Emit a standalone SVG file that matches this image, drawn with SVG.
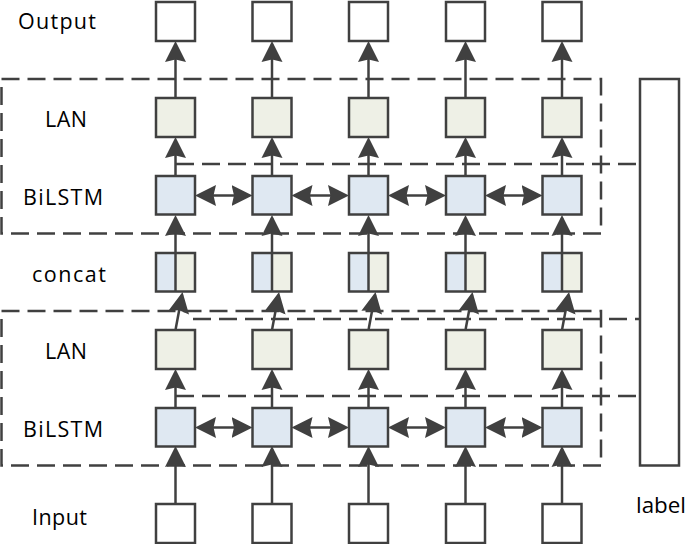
<svg xmlns="http://www.w3.org/2000/svg" width="685" height="544" viewBox="0 0 685 544">
<style>
.bx{stroke:#404040;stroke-width:2.5;}
.w{fill:#ffffff;}
.b{fill:#dfe8f2;}
.g{fill:#eef0e6;}
.ln{stroke:#404040;stroke-width:2.5;fill:none;}
.ar{marker-end:url(#ah);}
.dar{marker-end:url(#ah);marker-start:url(#ahs);}
.ds{stroke:#404040;stroke-width:2.5;fill:none;stroke-dasharray:18 8;}
.t{font-family:"Open Sans","Liberation Sans",Arial,sans-serif;font-size:21.5px;fill:#000;}
</style>
<defs>
<marker id="ah" markerUnits="userSpaceOnUse" viewBox="0 -12 24 24" markerWidth="24" markerHeight="24" refX="18" refY="0" orient="auto">
<path d="M0,-10.5 L21,0 L0,10.5 L2.5,0 z" fill="#404040"/>
</marker>
<marker id="ahs" markerUnits="userSpaceOnUse" viewBox="0 -12 24 24" markerWidth="24" markerHeight="24" refX="18" refY="0" orient="auto-start-reverse">
<path d="M0,-10.5 L21,0 L0,10.5 L2.5,0 z" fill="#404040"/>
</marker>
</defs>

<g id="dashed-regions">
<rect class="ds" x="1.5" y="79" width="599.5" height="154.5"/>
<rect class="ds" x="1.5" y="311" width="599.5" height="154.5"/>
<line class="ds" x1="176" y1="164" x2="640" y2="164"/>
<line class="ds" x1="193" y1="319" x2="640" y2="319"/>
<line class="ds" x1="176" y1="396" x2="640" y2="396"/>
</g>

<g id="label-bar">
<rect class="bx w" x="640" y="79" width="39" height="386.5"/>
<text class="t" x="636" y="513" textLength="50" lengthAdjust="spacingAndGlyphs">label</text>
</g>

<g id="row-labels">
<text class="t" x="18" y="29" textLength="78" lengthAdjust="spacing">Output</text>
<text class="t" x="45" y="127" textLength="42" lengthAdjust="spacing">LAN</text>
<text class="t" x="23" y="204.5" textLength="80" lengthAdjust="spacing">BiLSTM</text>
<text class="t" x="32" y="281.5" textLength="74" lengthAdjust="spacing">concat</text>
<text class="t" x="45" y="359" textLength="42" lengthAdjust="spacing">LAN</text>
<text class="t" x="23" y="436.5" textLength="80" lengthAdjust="spacing">BiLSTM</text>
<text class="t" x="32" y="525" textLength="55" lengthAdjust="spacing">Input</text>
</g>

<g id="connectors">
<!-- column 1 cx=175.5 -->
<line class="ln ar" x1="175.5" y1="504" x2="175.5" y2="449"/>
<line class="ln ar" x1="175.5" y1="408" x2="175.5" y2="372"/>
<line class="ln ar" x1="175.5" y1="330" x2="182" y2="295"/>
<line class="ln ar" x1="175.5" y1="253" x2="175.5" y2="218"/>
<line class="ln ar" x1="175.5" y1="176" x2="175.5" y2="140"/>
<line class="ln ar" x1="175.5" y1="98" x2="175.5" y2="44"/>
<!-- column 2 cx=272 -->
<line class="ln ar" x1="272" y1="504" x2="272" y2="449"/>
<line class="ln ar" x1="272" y1="408" x2="272" y2="372"/>
<line class="ln ar" x1="272" y1="330" x2="278.5" y2="295"/>
<line class="ln ar" x1="272" y1="253" x2="272" y2="218"/>
<line class="ln ar" x1="272" y1="176" x2="272" y2="140"/>
<line class="ln ar" x1="272" y1="98" x2="272" y2="44"/>
<!-- column 3 cx=368.5 -->
<line class="ln ar" x1="368.5" y1="504" x2="368.5" y2="449"/>
<line class="ln ar" x1="368.5" y1="408" x2="368.5" y2="372"/>
<line class="ln ar" x1="368.5" y1="330" x2="375" y2="295"/>
<line class="ln ar" x1="368.5" y1="253" x2="368.5" y2="218"/>
<line class="ln ar" x1="368.5" y1="176" x2="368.5" y2="140"/>
<line class="ln ar" x1="368.5" y1="98" x2="368.5" y2="44"/>
<!-- column 4 cx=465.5 -->
<line class="ln ar" x1="465.5" y1="504" x2="465.5" y2="449"/>
<line class="ln ar" x1="465.5" y1="408" x2="465.5" y2="372"/>
<line class="ln ar" x1="465.5" y1="330" x2="472" y2="295"/>
<line class="ln ar" x1="465.5" y1="253" x2="465.5" y2="218"/>
<line class="ln ar" x1="465.5" y1="176" x2="465.5" y2="140"/>
<line class="ln ar" x1="465.5" y1="98" x2="465.5" y2="44"/>
<!-- column 5 cx=562 -->
<line class="ln ar" x1="562" y1="504" x2="562" y2="449"/>
<line class="ln ar" x1="562" y1="408" x2="562" y2="372"/>
<line class="ln ar" x1="562" y1="330" x2="568.5" y2="295"/>
<line class="ln ar" x1="562" y1="253" x2="562" y2="218"/>
<line class="ln ar" x1="562" y1="176" x2="562" y2="140"/>
<line class="ln ar" x1="562" y1="98" x2="562" y2="44"/>
<!-- bidirectional, upper BiLSTM -->
<line class="ln dar" x1="198" y1="195.5" x2="249.5" y2="195.5"/>
<line class="ln dar" x1="294.5" y1="195.5" x2="346" y2="195.5"/>
<line class="ln dar" x1="391" y1="195.5" x2="443" y2="195.5"/>
<line class="ln dar" x1="488" y1="195.5" x2="539.5" y2="195.5"/>
<!-- bidirectional, lower BiLSTM -->
<line class="ln dar" x1="198" y1="427.5" x2="249.5" y2="427.5"/>
<line class="ln dar" x1="294.5" y1="427.5" x2="346" y2="427.5"/>
<line class="ln dar" x1="391" y1="427.5" x2="443" y2="427.5"/>
<line class="ln dar" x1="488" y1="427.5" x2="539.5" y2="427.5"/>
</g>

<g id="col1">
<rect id="out1" class="bx w" x="156" y="2" width="39" height="39"/>
<rect id="lan2-1" class="bx g" x="156" y="98" width="39" height="39"/>
<rect id="bil2-1" class="bx b" x="156" y="176" width="39" height="38.5"/>
<g id="cat1"><rect class="b" x="156" y="253" width="19.5" height="38.5"/><rect class="g" x="175.5" y="253" width="19.5" height="38.5"/><rect class="bx" fill="none" x="156" y="253" width="39" height="38.5"/><line class="ln" x1="175.5" y1="253" x2="175.5" y2="291.5"/></g>
<rect id="lan1-1" class="bx g" x="156" y="330" width="39" height="39"/>
<rect id="bil1-1" class="bx b" x="156" y="408" width="39" height="38.5"/>
<rect id="in1" class="bx w" x="156" y="504" width="39" height="39"/>
</g>
<g id="col2">
<rect id="out2" class="bx w" x="252.5" y="2" width="39" height="39"/>
<rect id="lan2-2" class="bx g" x="252.5" y="98" width="39" height="39"/>
<rect id="bil2-2" class="bx b" x="252.5" y="176" width="39" height="38.5"/>
<g id="cat2"><rect class="b" x="252.5" y="253" width="19.5" height="38.5"/><rect class="g" x="272" y="253" width="19.5" height="38.5"/><rect class="bx" fill="none" x="252.5" y="253" width="39" height="38.5"/><line class="ln" x1="272" y1="253" x2="272" y2="291.5"/></g>
<rect id="lan1-2" class="bx g" x="252.5" y="330" width="39" height="39"/>
<rect id="bil1-2" class="bx b" x="252.5" y="408" width="39" height="38.5"/>
<rect id="in2" class="bx w" x="252.5" y="504" width="39" height="39"/>
</g>
<g id="col3">
<rect id="out3" class="bx w" x="349" y="2" width="39" height="39"/>
<rect id="lan2-3" class="bx g" x="349" y="98" width="39" height="39"/>
<rect id="bil2-3" class="bx b" x="349" y="176" width="39" height="38.5"/>
<g id="cat3"><rect class="b" x="349" y="253" width="19.5" height="38.5"/><rect class="g" x="368.5" y="253" width="19.5" height="38.5"/><rect class="bx" fill="none" x="349" y="253" width="39" height="38.5"/><line class="ln" x1="368.5" y1="253" x2="368.5" y2="291.5"/></g>
<rect id="lan1-3" class="bx g" x="349" y="330" width="39" height="39"/>
<rect id="bil1-3" class="bx b" x="349" y="408" width="39" height="38.5"/>
<rect id="in3" class="bx w" x="349" y="504" width="39" height="39"/>
</g>
<g id="col4">
<rect id="out4" class="bx w" x="446" y="2" width="39" height="39"/>
<rect id="lan2-4" class="bx g" x="446" y="98" width="39" height="39"/>
<rect id="bil2-4" class="bx b" x="446" y="176" width="39" height="38.5"/>
<g id="cat4"><rect class="b" x="446" y="253" width="19.5" height="38.5"/><rect class="g" x="465.5" y="253" width="19.5" height="38.5"/><rect class="bx" fill="none" x="446" y="253" width="39" height="38.5"/><line class="ln" x1="465.5" y1="253" x2="465.5" y2="291.5"/></g>
<rect id="lan1-4" class="bx g" x="446" y="330" width="39" height="39"/>
<rect id="bil1-4" class="bx b" x="446" y="408" width="39" height="38.5"/>
<rect id="in4" class="bx w" x="446" y="504" width="39" height="39"/>
</g>
<g id="col5">
<rect id="out5" class="bx w" x="542.5" y="2" width="39" height="39"/>
<rect id="lan2-5" class="bx g" x="542.5" y="98" width="39" height="39"/>
<rect id="bil2-5" class="bx b" x="542.5" y="176" width="39" height="38.5"/>
<g id="cat5"><rect class="b" x="542.5" y="253" width="19.5" height="38.5"/><rect class="g" x="562" y="253" width="19.5" height="38.5"/><rect class="bx" fill="none" x="542.5" y="253" width="39" height="38.5"/><line class="ln" x1="562" y1="253" x2="562" y2="291.5"/></g>
<rect id="lan1-5" class="bx g" x="542.5" y="330" width="39" height="39"/>
<rect id="bil1-5" class="bx b" x="542.5" y="408" width="39" height="38.5"/>
<rect id="in5" class="bx w" x="542.5" y="504" width="39" height="39"/>
</g>
</svg>
